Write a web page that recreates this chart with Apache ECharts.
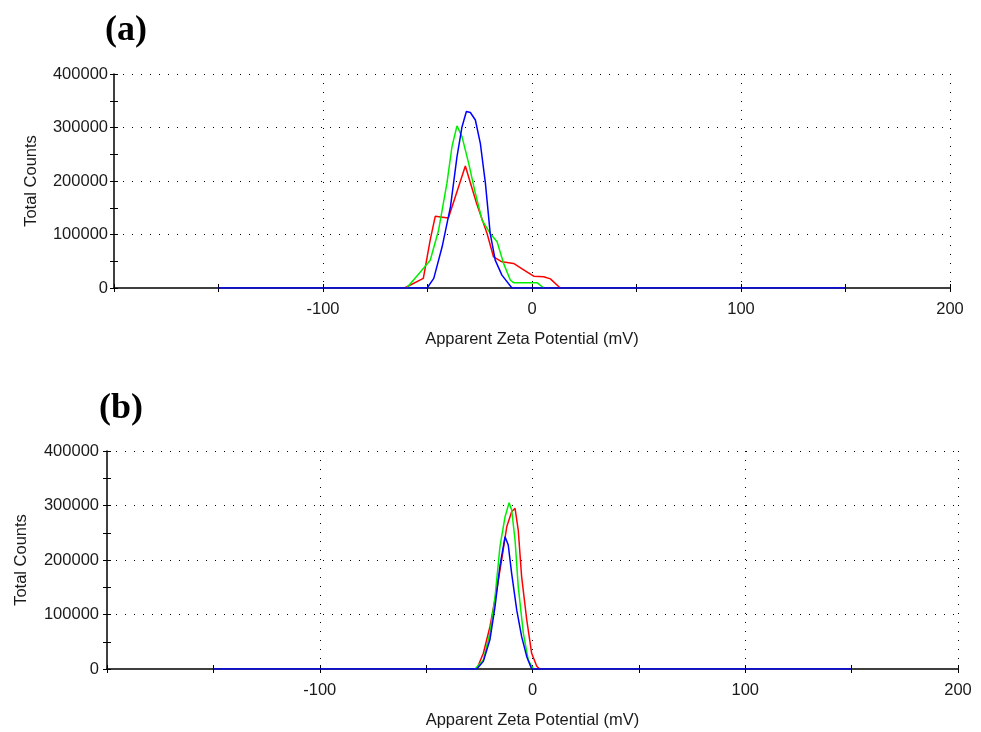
<!DOCTYPE html>
<html><head><meta charset="utf-8">
<script src="https://cdn.jsdelivr.net/npm/echarts@6/dist/echarts.min.js"></script>
<style>html,body{margin:0;padding:0;background:#fff}#c{width:981px;height:732px}</style>
</head><body><div id="c"></div>
<script>
// Zeta potential distributions [mV, total counts]
const aRed = [[-61,0],[-52,18000],[-48.7,90000],[-46.3,134000],[-40,131000],[-31.9,228000],[-26.5,158000],[-21.5,102000],[-18.4,58000],[-14.4,49000],[-8.8,46000],[-4,34000],[0.8,22000],[5.6,21000],[8.8,17000],[13.5,0]];
const aGreen = [[-60,0],[-53.4,30000],[-48.7,52000],[-44.7,108000],[-40.7,196000],[-38.3,264000],[-35.9,303000],[-33.5,283000],[-30.3,233000],[-27.1,177000],[-23.9,127000],[-20,102000],[-16.7,86500],[-13.6,46000],[-10.4,15000],[-8.8,10000],[2.4,10000],[5.6,0]];
const aBlue = [[-150,0],[-50.2,0],[-47,18000],[-43,77000],[-39,152000],[-35.9,245000],[-33.5,301000],[-31.4,330000],[-29.5,328000],[-27.1,314000],[-24.7,270000],[-22.3,196000],[-20,102000],[-17.6,52000],[-14.4,24000],[-9.6,0],[150,0]];
const bRed = [[-26.2,0],[-23.1,28800],[-20,77600],[-16.8,145000],[-14.5,200000],[-12.1,261000],[-9.8,288600],[-8.2,294800],[-6.7,255000],[-5.1,169000],[-2.7,90000],[-0.4,28800],[2,5000],[3.4,0]];
const bGreen = [[-27,0],[-23.1,16500],[-20,65500],[-17.6,132700],[-15.3,224400],[-12.9,279500],[-11,305000],[-9.8,291700],[-8.2,236700],[-6.7,151000],[-4.3,65500],[-2,16500],[0.4,0]];
const bBlue = [[-150,0],[-26.2,0],[-23.1,14000],[-20,54000],[-17.6,115000],[-15.3,189000],[-12.9,242700],[-11.4,227500],[-9.8,175600],[-7.4,108000],[-5.1,59300],[-2.7,22600],[-0.4,0],[150,0]];
const xLabels = [-100, 0, 100, 200];
const panelLabels = ['(a)', '(b)'];

const FONT = '"Liberation Sans", Arial, sans-serif';
const FS = 16.5;
const TXT = '#1a1a1a';
const dotted = {color:'#000', width:1, type:[1,8]};
function xMain(g){
  return {type:'value', gridIndex:g, min:-200, max:200, interval:100, position:'bottom',
    name:'Apparent Zeta Potential (mV)', nameLocation:'middle', nameGap:43,
    nameTextStyle:{fontFamily:FONT, fontSize:FS, color:TXT},
    axisLine:{show:true, onZero:false, lineStyle:{color:'#000', width:1.5}},
    axisTick:{show:true, length:4, lineStyle:{color:'#000'}},
    minorTick:{show:true, splitNumber:2, length:4, lineStyle:{color:'#000'}},
    axisLabel:{fontFamily:FONT, fontSize:FS, color:TXT, margin:13,
      formatter:v=> xLabels.indexOf(v) >= 0 ? String(v) : ''},
    splitLine:{show:true, showMinLine:false, lineStyle:dotted}};
}
function xInner(g){
  return {type:'value', gridIndex:g, min:-200, max:200, interval:100, position:'bottom',
    axisLine:{show:false, onZero:false}, axisLabel:{show:false}, splitLine:{show:false},
    axisTick:{show:true, inside:true, length:4, lineStyle:{color:'#000'}},
    minorTick:{show:true, splitNumber:2, length:4, lineStyle:{color:'#000'}}};
}
function yMain(g, gap, margin){
  return {type:'value', gridIndex:g, min:0, max:400000, interval:100000, position:'left',
    name:'Total Counts', nameLocation:'middle', nameGap:gap,
    nameTextStyle:{fontFamily:FONT, fontSize:FS, color:TXT},
    axisLine:{show:true, onZero:false, lineStyle:{color:'#000', width:1.5}},
    axisTick:{show:true, length:4, lineStyle:{color:'#000'}},
    minorTick:{show:true, splitNumber:2, length:4, lineStyle:{color:'#000'}},
    axisLabel:{fontFamily:FONT, fontSize:FS, color:TXT, margin:margin, formatter:v=>String(v)},
    splitLine:{show:true, showMinLine:false, lineStyle:dotted}};
}
function yInner(g){
  return {type:'value', gridIndex:g, min:0, max:400000, interval:100000, position:'left',
    axisLine:{show:false, onZero:false}, axisLabel:{show:false}, splitLine:{show:false},
    axisTick:{show:true, inside:true, length:4, lineStyle:{color:'#000'}},
    minorTick:{show:true, splitNumber:2, length:4, lineStyle:{color:'#000'}}};
}
function line(data, color, xi, yi){
  return {type:'line', data:data, xAxisIndex:xi, yAxisIndex:yi, showSymbol:false, symbol:'none',
    smooth:false, lineStyle:{color:color, width:1.5}, itemStyle:{color:color}, animation:false, z:3};
}
const chart = echarts.init(document.getElementById('c'), null, {renderer:'canvas'});
chart.setOption({
  backgroundColor:'#fff',
  animation:false,
  grid:[
    {left:114, right:31, top:74, height:214},
    {left:107, right:23, top:451, height:218}
  ],
  xAxis:[xMain(0), xInner(0), xMain(1), xInner(1)],
  yAxis:[yMain(0,74,6), yInner(0), yMain(1,77,8), yInner(1)],
  graphic:[
    {type:'text', left:105, top:13, style:{text:panelLabels[0], font:'bold 36px "Liberation Serif", "Times New Roman", serif', fill:'#000'}},
    {type:'text', left:99, top:391, style:{text:panelLabels[1], font:'bold 36px "Liberation Serif", "Times New Roman", serif', fill:'#000'}}
  ],
  series:[
    line(aRed,'#ff0000',0,0), line(aGreen,'#00ee00',0,0), line(aBlue,'#0000ff',0,0),
    line(bRed,'#ff0000',2,2), line(bGreen,'#00ee00',2,2), line(bBlue,'#0000ff',2,2)
  ]
});
</script></body></html>
